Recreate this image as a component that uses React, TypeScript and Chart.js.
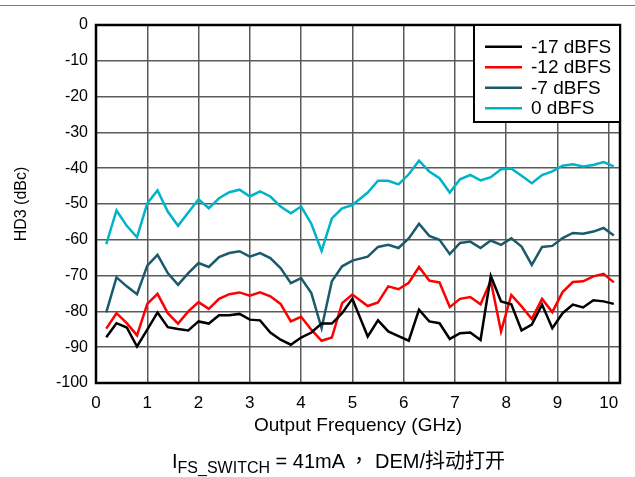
import React, { useEffect, useRef } from "react";
import { Chart, registerables } from "chart.js";

Chart.register(...registerables);

// Output frequency (GHz)
const freqs = [
  0.2, 0.4, 0.6, 0.8, 1.0, 1.2, 1.4, 1.6, 1.8, 2.0,
  2.2, 2.4, 2.6, 2.8, 3.0, 3.2, 3.4, 3.6, 3.8, 4.0,
  4.2, 4.4, 4.6, 4.8, 5.0, 5.3, 5.5, 5.7, 5.9, 6.1,
  6.3, 6.5, 6.7, 6.9, 7.1, 7.3, 7.5, 7.7, 7.9, 8.1,
  8.3, 8.5, 8.7, 8.9, 9.1, 9.3, 9.5, 9.7, 9.9, 10.1,
];

// HD3 (dBc) per input level
const hd3Minus17 = [
  -87.2, -83.3, -84.5, -89.8, -85.1, -80.3, -84.4, -84.9, -85.3, -82.8,
  -83.4, -81.1, -81.1, -80.7, -82.3, -82.5, -85.9, -87.9, -89.3, -87.3,
  -85.9, -83.4, -83.4, -80.5, -76.5, -87.0, -82.5, -85.6, -86.9, -88.2,
  -79.5, -82.8, -83.3, -87.7, -86.1, -85.9, -88.0, -70.1, -77.2, -78.0,
  -85.3, -83.7, -78.1, -84.7, -80.5, -78.1, -78.9, -76.9, -77.2, -77.9,
];
const hd3Minus12 = [
  -84.8, -80.5, -83.3, -86.7, -77.9, -75.1, -80.5, -83.4, -80.0, -77.4,
  -79.3, -76.5, -75.2, -74.7, -75.6, -74.7, -75.8, -77.9, -82.8, -81.5,
  -85.1, -88.2, -87.3, -77.7, -75.3, -78.5, -77.5, -73.0, -73.8, -72.0,
  -67.6, -71.4, -71.9, -78.8, -76.5, -76.0, -78.0, -71.5, -85.6, -75.4,
  -78.6, -82.1, -76.5, -80.2, -74.6, -71.8, -71.6, -70.2, -69.5, -71.9,
];
const hd3Minus7 = [
  -80.3, -70.5, -73.0, -75.2, -67.2, -64.2, -69.3, -72.6, -69.3, -66.5,
  -67.6, -64.8, -63.7, -63.2, -64.7, -63.7, -65.1, -67.9, -72.1, -70.7,
  -74.9, -84.7, -71.6, -67.4, -65.8, -64.7, -62.0, -61.4, -62.3, -59.6,
  -55.5, -58.9, -60.0, -64.0, -60.9, -60.5, -62.3, -60.2, -61.4, -59.6,
  -61.9, -67.0, -62.0, -61.7, -59.5, -58.1, -58.3, -57.7, -56.7, -58.8,
];
const hd3Zero = [
  -61.2, -51.8, -56.1, -59.3, -49.8, -46.2, -52.1, -56.1, -52.4, -48.7,
  -51.2, -48.4, -46.7, -46.0, -47.9, -46.5, -47.9, -50.7, -52.6, -50.7,
  -55.5, -63.1, -54.0, -51.2, -50.3, -46.8, -43.5, -43.5, -44.5, -41.7,
  -37.9, -40.9, -42.8, -46.8, -43.1, -41.9, -43.4, -42.5, -40.3, -40.1,
  -42.1, -44.2, -41.9, -40.9, -39.3, -38.9, -39.5, -39.1, -38.3, -39.5,
];

const seriesLabels = ["-17 dBFS", "-12 dBFS", "-7 dBFS", "0 dBFS"];
const seriesColors = ["#000000", "#ff0000", "#1a5a6a", "#00b4c8"];
const seriesValues = [hd3Minus17, hd3Minus12, hd3Minus7, hd3Zero];

const xTickValues = [0, 1, 2, 3, 4, 5, 6, 7, 8, 9, 10];
const yTickValues = [0, -10, -20, -30, -40, -50, -60, -70, -80, -90, -100];

const FONT = "'Liberation Sans', Arial, sans-serif";

const frameLegendPlugin = {
  id: "frameLegend",
  afterDatasetsDraw(chart: any) {
    const { ctx, chartArea: a } = chart;
    ctx.save();
    ctx.strokeStyle = "#000";
    ctx.lineWidth = 2.5;
    ctx.strokeRect(a.left, a.top, a.right - a.left, a.bottom - a.top);

    const w = 146;
    const h = 97;
    const lx = a.right - w;
    const ly = a.top;
    ctx.fillStyle = "#fff";
    ctx.fillRect(lx, ly, w, h);
    ctx.lineWidth = 2;
    ctx.strokeRect(lx, ly, w, h);
    chart.data.datasets.forEach((ds: any, i: number) => {
      const y = ly + 21.7 + i * 20.5;
      ctx.strokeStyle = ds.borderColor;
      ctx.lineWidth = 2.5;
      ctx.beginPath();
      ctx.moveTo(lx + 11, y);
      ctx.lineTo(lx + 48, y);
      ctx.stroke();
      ctx.fillStyle = "#000";
      ctx.font = `19px ${FONT}`;
      ctx.textBaseline = "middle";
      ctx.textAlign = "left";
      ctx.fillText(ds.label, lx + 57, y + 1);
    });
    ctx.restore();
  },
};

export default function App() {
  const canvasRef = useRef<HTMLCanvasElement | null>(null);

  useEffect(() => {
    if (!canvasRef.current) return;
    const chart = new Chart(canvasRef.current, {
      type: "line",
      data: {
        datasets: seriesLabels.map((label, i) => ({
          label,
          data: freqs.map((f, j) => ({ x: f, y: seriesValues[i][j] })),
          borderColor: seriesColors[i],
          backgroundColor: seriesColors[i],
          borderWidth: 2.5,
          pointRadius: 0,
          tension: 0,
          fill: false,
        })),
      },
      options: {
        animation: false,
        responsive: false,
        devicePixelRatio: 1,
        layout: { padding: { top: 25, right: 15, left: 0, bottom: 40 } },
        plugins: {
          legend: { display: false },
          tooltip: { enabled: false },
        },
        scales: {
          x: {
            type: "linear",
            min: 0,
            max: 10.22,
            afterBuildTicks: (s: any) => {
              s.ticks = xTickValues.map((v) => ({ value: v }));
            },
            afterFit: (s: any) => {
              s.height = 54;
            },
            grid: { color: "#5a5a5a", lineWidth: 1.5, drawTicks: false },
            border: { display: false },
            ticks: {
              color: "#000",
              font: { family: FONT, size: 17 },
              padding: 10,
              maxRotation: 0,
              callback: (v: any) => String(v),
            },
            title: {
              display: true,
              text: "Output Frequency (GHz)",
              color: "#000",
              font: { family: FONT, size: 19 },
              padding: { top: 0, bottom: 0 },
            },
          },
          y: {
            type: "linear",
            min: -100,
            max: 0,
            afterBuildTicks: (s: any) => {
              s.ticks = yTickValues.map((v) => ({ value: v }));
            },
            afterFit: (s: any) => {
              s.width = 96;
            },
            grid: { color: "#5a5a5a", lineWidth: 1.5, drawTicks: false },
            border: { display: false },
            ticks: {
              color: "#000",
              font: { family: FONT, size: 16 },
              padding: 8,
              callback: (v: any) => String(v),
            },
            title: {
              display: true,
              text: "HD3 (dBc)",
              color: "#000",
              font: { family: FONT, size: 16 },
              padding: { top: 12, bottom: 0 },
            },
          },
        },
      },
      plugins: [frameLegendPlugin],
    });
    return () => chart.destroy();
  }, []);

  return (
    <div style={{ position: "absolute", left: 0, top: 0, width: 635, height: 477, background: "#fff" }}>
      <div style={{ position: "absolute", left: 0, top: 5, width: 635, height: 0, borderTop: "1.5px solid #7a7a7a" }} />
      <canvas ref={canvasRef} width={635} height={477} style={{ position: "absolute", left: 0, top: 0, width: 635, height: 477 }} />
      <div
        style={{
          position: "absolute",
          left: 172,
          top: 447,
          fontFamily: "'Liberation Sans', Arial, 'Noto Sans CJK SC', sans-serif",
          fontSize: 20,
          color: "#000",
          whiteSpace: "nowrap",
          lineHeight: "26px",
        }}
      >
        I<sub style={{ fontSize: 16, verticalAlign: "-5px" }}>FS_SWITCH</sub> = 41mA
        <span style={{ fontFamily: "'Noto Sans CJK TC', 'Noto Sans CJK SC', sans-serif", margin: "0 6px 0 4px" }}>，</span>
        DEM/抖动打开
      </div>
    </div>
  );
}
